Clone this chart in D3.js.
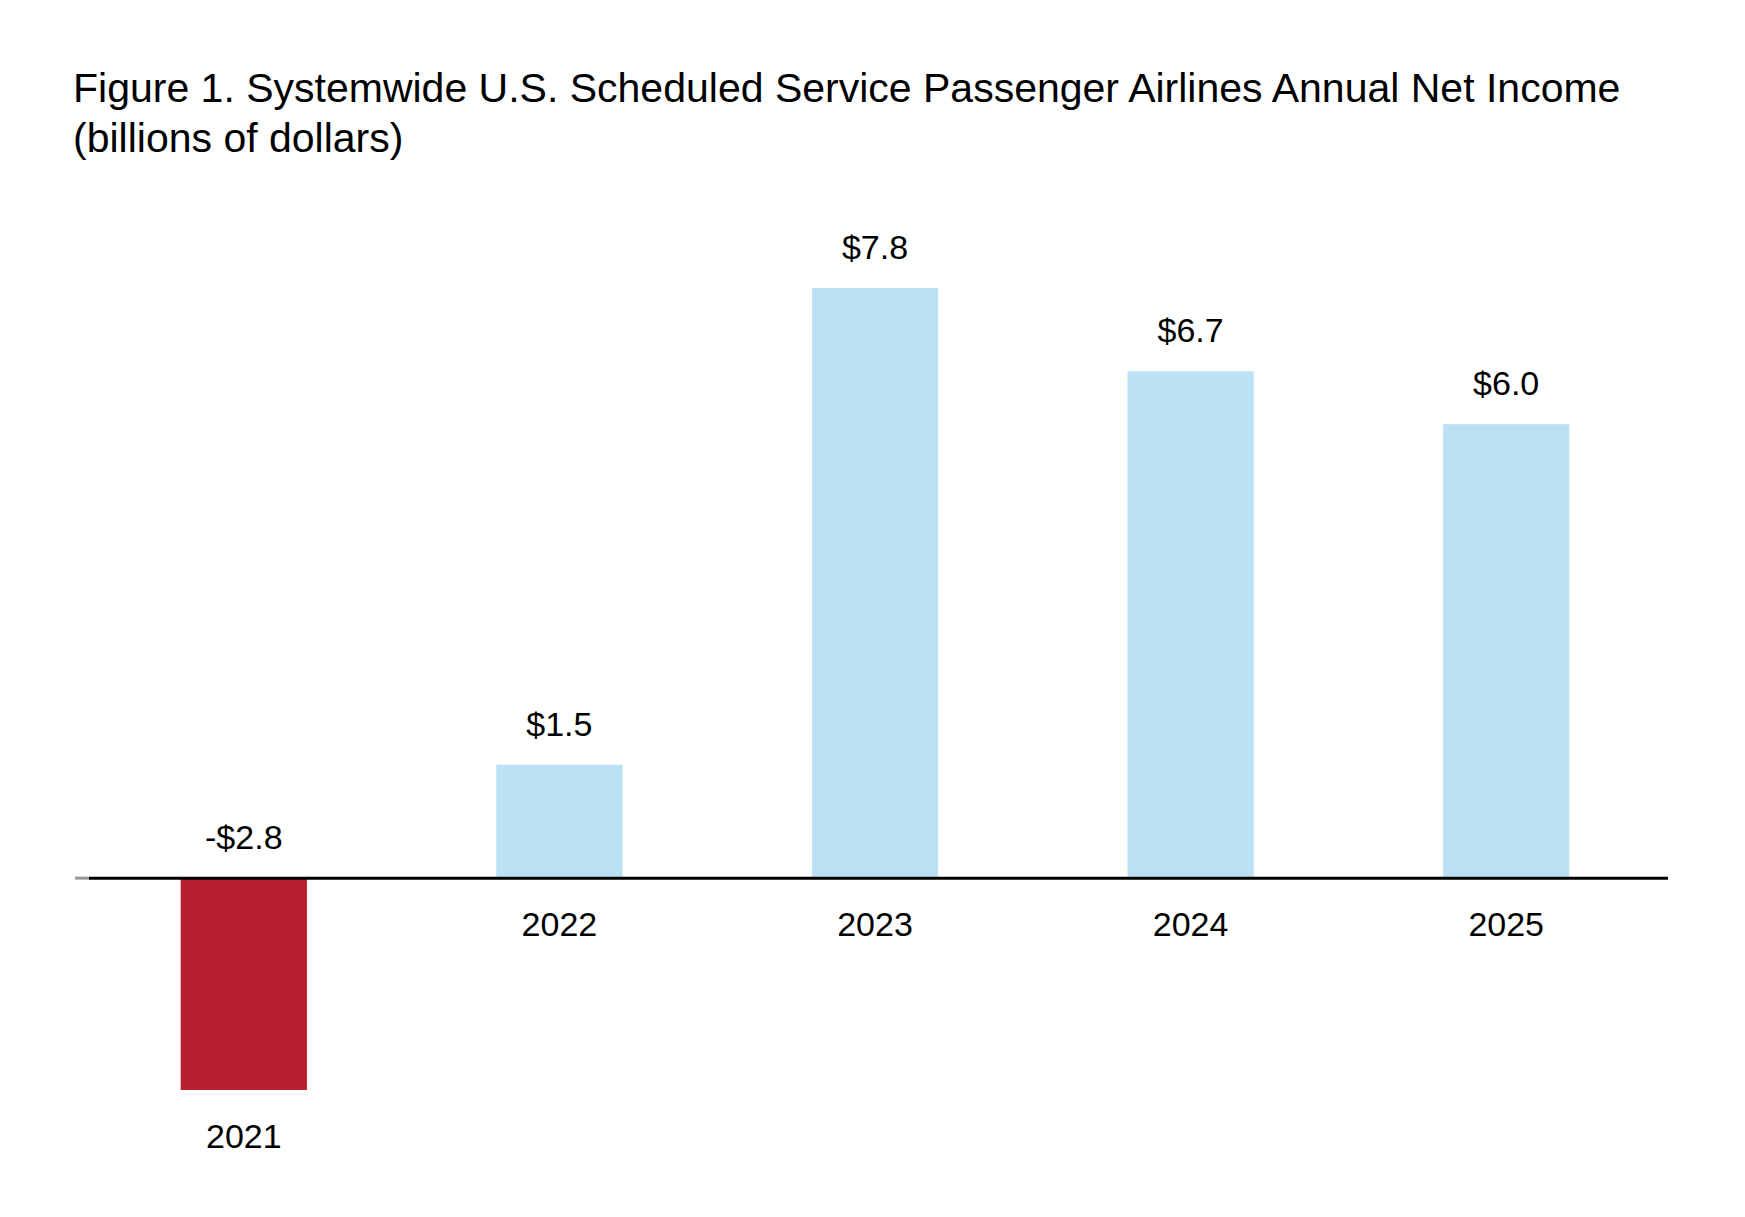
<!DOCTYPE html><html><head><meta charset="utf-8"><script src="https://cdn.jsdelivr.net/npm/d3@7"></script>
<style>body{margin:0;background:#fff}svg{font-family:Arial,"Liberation Sans",sans-serif}</style></head><body><svg id="c" width="1745" height="1217"></svg><script>
const years=["2021","2022","2023","2024","2025"];
const values=[-2.8,1.5,7.8,6.7,6.0];
const valueLabels=["-$2.8","$1.5","$7.8","$6.7","$6.0"];
const svg=d3.select("#c");
const x=d3.scaleBand().domain(years).range([86,1664]).paddingInner(0.6).paddingOuter(0.3);
const y=d3.scaleLinear().domain([-2.8,7.8]).range([1090,288]);
svg.append("text").attr("x",73).attr("y",102).attr("font-size",41).text("Figure 1. Systemwide U.S. Scheduled Service Passenger Airlines Annual Net Income");
svg.append("text").attr("x",73).attr("y",152).attr("font-size",41).text("(billions of dollars)");
svg.selectAll("rect.b").data(values).join("rect").attr("x",(d,i)=>x(years[i])).attr("width",x.bandwidth())
 .attr("y",d=>y(Math.max(0,d))).attr("height",d=>Math.abs(y(d)-y(0))).attr("fill",d=>d<0?"#BA1F31":"#BDE1F4");
svg.append("line").attr("x1",75).attr("x2",89).attr("y1",y(0)).attr("y2",y(0)).attr("stroke","#999").attr("stroke-width",3);
svg.append("line").attr("x1",89).attr("x2",1668).attr("y1",y(0)).attr("y2",y(0)).attr("stroke","#000").attr("stroke-width",3);
svg.selectAll("text.v").data(values).join("text").attr("text-anchor","middle").attr("font-size",34)
 .attr("x",(d,i)=>x(years[i])+x.bandwidth()/2).attr("y",d=>y(Math.max(0,d))-29).text((d,i)=>valueLabels[i]);
svg.selectAll("text.y").data(values).join("text").attr("text-anchor","middle").attr("font-size",34)
 .attr("x",(d,i)=>x(years[i])+x.bandwidth()/2).attr("y",d=>y(Math.min(0,d))+58).text((d,i)=>years[i]);
</script></body></html>
